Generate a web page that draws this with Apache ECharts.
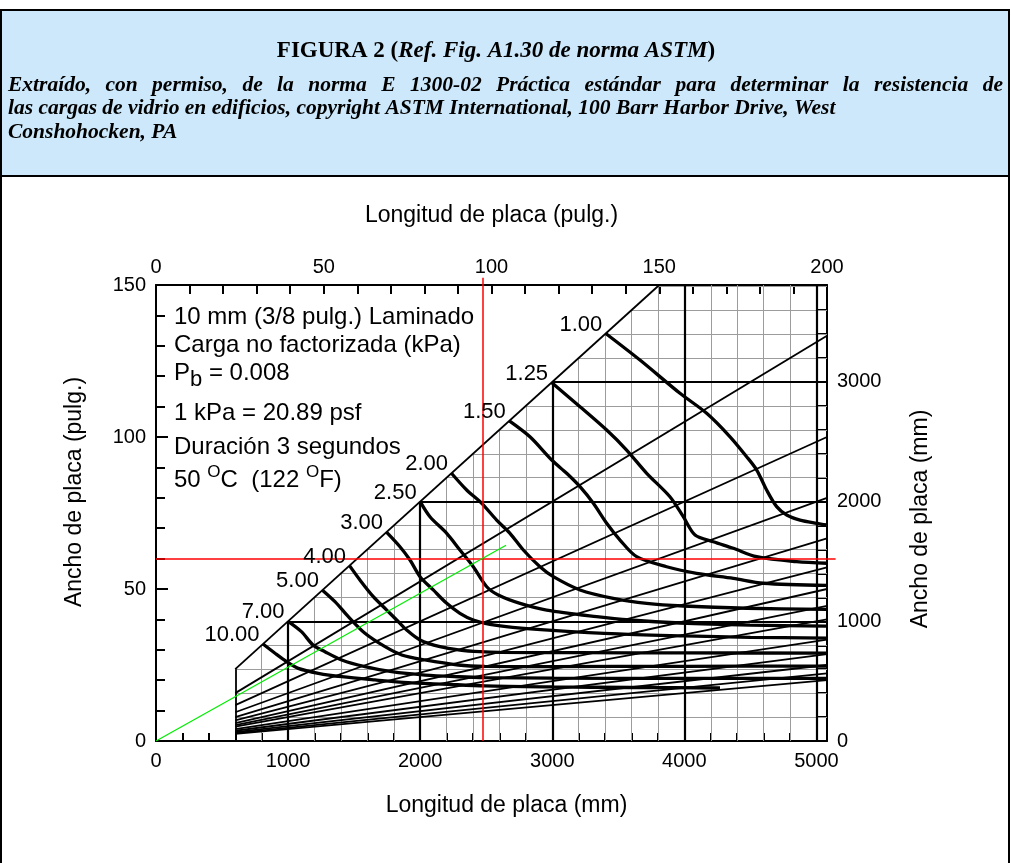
<!DOCTYPE html>
<html>
<head>
<meta charset="utf-8">
<script src="https://cdn.jsdelivr.net/npm/echarts@6/dist/echarts.min.js"></script>
<style>
html, body { margin: 0; padding: 0; background: #fff; }
#chart { width: 1011px; height: 863px; }
</style>
</head>
<body>
<div id="chart"></div>
<script>
// all chart values in mm: x = plate length, y = plate width
const X_MAX = 5080;   // 200 in
const Y_MAX = 3810;   // 150 in
const X_START = 600;  // charts start at 600 mm

// thin aspect-ratio lines (length / width)
const aspectRatios = [1.5, 2, 2.5, 3, 3.5, 4, 4.5, 5, 6, 7, 8, 9, 10];

// heavy reference lines
const heavyX = [1000, 2000, 3000, 4000, 5000];
const heavyY = [1000, 2000, 3000];
const gridStep = 200;

// non-factored load contours (kPa)
const loadLabels = ['1.00', '1.25', '1.50', '2.00', '2.50', '3.00', '4.00', '5.00', '7.00', '10.00'];
const curve100 = [[3405,3405],[3664,3183],[3967,2905],[4169,2738],[4346,2542],[4472,2375],[4548,2264],[4623,2097],[4699,1958],[4775,1888],[4876,1846],[5002,1819],[5080,1805]];
const curve125 = [[2995,2995],[3210,2793],[3412,2598],[3563,2431],[3715,2237],[3891,2041],[3992,1874],[4081,1721],[4219,1665],[4371,1610],[4548,1540],[4850,1498],[5080,1485]];
const curve150 = [[2675,2675],[2831,2542],[2996,2348],[3109,2237],[3210,2125],[3311,1986],[3412,1819],[3513,1679],[3639,1540],[3866,1456],[4093,1401],[4371,1359],[4598,1318],[5080,1300]];
const curve200 = [[2237,2237],[2352,2097],[2466,1986],[2579,1846],[2680,1735],[2781,1596],[2907,1456],[3008,1373],[3210,1262],[3462,1192],[3715,1150],[3992,1128],[4472,1109],[5080,1100]];
const curve250 = [[2000,2000],[2074,1874],[2201,1735],[2301,1596],[2402,1456],[2504,1289],[2591,1220],[2756,1150],[2958,1094],[3336,1039],[3588,1011],[3967,986],[4497,969],[5080,960]];
const curve300 = [[1745,1745],[1847,1623],[1923,1512],[1999,1373],[2099,1262],[2201,1150],[2301,1067],[2402,1011],[2529,975],[2700,950],[3000,925],[3500,895],[4000,878],[4500,866],[5080,860]];
const curve400 = [[1465,1465],[1544,1345],[1645,1206],[1747,1094],[1822,1011],[1898,927],[1999,844],[2150,788],[2301,760],[2453,746],[2604,740],[3200,738],[4000,736],[5080,735]];
const curve500 = [[1260,1260],[1355,1164],[1456,1039],[1582,900],[1734,788],[1860,719],[2036,677],[2289,635],[2491,624],[3000,622],[4000,624],[5080,626]];
const curve700 = [[1000,1000],[1101,914],[1189,802],[1279,746],[1406,677],[1582,621],[1784,579],[2036,551],[2289,537],[2491,530],[3000,525],[4000,523],[5080,524]];
const curve1000 = [[810,810],[901,733],[989,663],[1077,607],[1229,566],[1406,537],[1658,510],[1910,487],[2163,476],[2491,460],[3000,452],[3600,447],[4270,443]];
const loadCurves = [curve100, curve125, curve150, curve200, curve250, curve300, curve400, curve500, curve700, curve1000];

// worked example (red) and its aspect-ratio line (green)
const redVertical = [[2470, 0], [2470, 3870]];
const redHorizontal = [[0, 1524], [5145, 1524]];
const greenLine = [[0, 0], [2650, 1635]];

// text
const topTicks = [0, 50, 100, 150, 200];
const noteLines = ['10 mm (3/8 pulg.) Laminado', 'Carga no factorizada (kPa)', 'P|b| = 0.008', '1 kPa = 20.89 psf', 'Duración 3 segundos', '50 ^O^C  (122 ^O^F)'];
const headerTitle = ['FIGURA 2 (', 'Ref. Fig. A1.30 de norma ASTM', ')'];
const headerLines = [
  'Extraído, con permiso, de la norma E 1300-02 Práctica estándar para determinar la resistencia de',
  'las cargas de vidrio en edificios, copyright ASTM International, 100 Barr Harbor Drive, West',
  'Conshohocken, PA'
];

const SANS = '"Liberation Sans", Arial, sans-serif';
const SERIF = '"Liberation Serif", "Times New Roman", serif';

// ---- build segments ----
const grayLines = [];
for (let x = X_START + gridStep; x < X_MAX; x += gridStep) {
  grayLines.push({ coords: [[x, 0], [x, Math.min(x, Y_MAX)]] });
}
for (let y = gridStep; y < Y_MAX; y += gridStep) {
  grayLines.push({ coords: [[Math.max(X_START, y), y], [X_MAX, y]] });
}
const heavyLines = [];
heavyX.forEach(x => heavyLines.push({ coords: [[x, 0], [x, Math.min(x, Y_MAX)]] }));
heavyY.forEach(y => heavyLines.push({ coords: [[y, y], [X_MAX, y]] }));

const thinLines = [
  { coords: [[X_START, 0], [X_START, X_START]] },
  { coords: [[X_START, X_START], [Y_MAX, Y_MAX]] }
];
aspectRatios.forEach(r => thinLines.push({ coords: [[X_START, X_START / r], [X_MAX, X_MAX / r]] }));

// ---- text helpers ----
const measureCtx = document.createElement('canvas').getContext('2d');
function textWidth(str, font) {
  measureCtx.font = font;
  return measureCtx.measureText(str).width;
}
function textEl(text, x, y, opts) {
  return {
    type: 'text', x: x, y: y, z: 100,
    style: Object.assign({
      text: text, fill: '#000', fontFamily: SANS, fontSize: 24,
      align: 'left', verticalAlign: 'middle'
    }, opts || {})
  };
}

const graphics = [];
// header frame
graphics.push({ type: 'rect', z: 0, shape: { x: 1, y: 10, width: 1008, height: 166 }, style: { fill: '#cce8fa', stroke: '#000', lineWidth: 2 } });
graphics.push({ type: 'rect', z: 0, shape: { x: 1, y: 176, width: 1008, height: 700 }, style: { fill: 'none', stroke: '#000', lineWidth: 2 } });

// header title (bold + bold italic)
(function () {
  const size = 23;
  const fonts = ['bold ' + size + 'px ' + SERIF, 'italic bold ' + size + 'px ' + SERIF, 'bold ' + size + 'px ' + SERIF];
  const widths = headerTitle.map((t, i) => textWidth(t, fonts[i]));
  let x = 496 - widths.reduce((a, b) => a + b, 0) / 2;
  headerTitle.forEach((t, i) => {
    graphics.push(textEl(t, x, 51, { fontFamily: SERIF, fontSize: size, fontWeight: 'bold', fontStyle: i === 1 ? 'italic' : 'normal' }));
    x += widths[i];
  });
})();

// header citation, first line justified
(function () {
  const size = 21.5;
  const font = 'italic bold ' + size + 'px ' + SERIF;
  const ys = [85, 108, 132];
  const style = { fontFamily: SERIF, fontSize: size, fontWeight: 'bold', fontStyle: 'italic' };
  const words = headerLines[0].split(' ');
  const wsum = words.reduce((a, w) => a + textWidth(w, font), 0);
  const gap = (1003 - 8 - wsum) / (words.length - 1);
  let x = 8;
  words.forEach(w => {
    graphics.push(textEl(w, x, ys[0], style));
    x += textWidth(w, font) + gap;
  });
  graphics.push(textEl(headerLines[1], 8, ys[1], style));
  graphics.push(textEl(headerLines[2], 8, ys[2], style));
})();

// notes inside the plot: '|x|' subscript, '^x^' superscript
(function () {
  const ys = [317, 345, 373, 413, 447, 480];
  noteLines.forEach((line, i) => {
    let x = 174;
    const parts = line.split(/(\|[^|]+\||\^[^^]+\^)/).filter(p => p.length);
    parts.forEach(p => {
      let size = 24, dy = 0, t = p;
      if (p[0] === '|') { t = p.slice(1, -1); size = 22; dy = 7; }
      if (p[0] === '^') { t = p.slice(1, -1); size = 17; dy = -8; }
      graphics.push(textEl(t, x, ys[i] + dy, { fontSize: size }));
      x += textWidth(t, size + 'px ' + SANS);
    });
  });
})();

// ---- chart ----
const chart = echarts.init(document.getElementById('chart'), null, { renderer: 'canvas' });

const axisLineStyle = { color: '#000', width: 2 };
const labelStyle = { color: '#000', fontSize: 20, fontFamily: SANS };
const nameStyle = { color: '#000', fontSize: 23, fontFamily: SANS };

const series = [
  { type: 'lines', coordinateSystem: 'cartesian2d', xAxisIndex: 0, yAxisIndex: 1, silent: true, z: 2,
    data: grayLines, lineStyle: { color: '#9c9c9c', width: 1, opacity: 1 } },
  { type: 'lines', coordinateSystem: 'cartesian2d', xAxisIndex: 0, yAxisIndex: 1, silent: true, z: 3,
    data: heavyLines, lineStyle: { color: '#000', width: 2.2, opacity: 1 } },
  { type: 'lines', coordinateSystem: 'cartesian2d', xAxisIndex: 0, yAxisIndex: 1, silent: true, z: 3,
    data: thinLines, lineStyle: { color: '#000', width: 1.8, opacity: 1 } }
];
loadCurves.forEach((c, i) => series.push({
  type: 'line', name: loadLabels[i], xAxisIndex: 0, yAxisIndex: 1, data: c,
  smooth: 0.3, showSymbol: false, symbol: 'none', silent: true, z: 4,
  lineStyle: { color: '#000', width: 3.3 }
}));
series.push(
  { type: 'lines', coordinateSystem: 'cartesian2d', xAxisIndex: 0, yAxisIndex: 1, silent: true, z: 5, clip: false,
    data: [{ coords: redVertical }, { coords: redHorizontal }], lineStyle: { color: '#ff0000', width: 1.5, opacity: 1 } },
  { type: 'lines', coordinateSystem: 'cartesian2d', xAxisIndex: 0, yAxisIndex: 1, silent: true, z: 5,
    data: [{ coords: greenLine }], lineStyle: { color: '#00ee00', width: 1.2, opacity: 1 } },
  { type: 'scatter', xAxisIndex: 0, yAxisIndex: 1, symbolSize: 1, silent: true, z: 6,
    itemStyle: { opacity: 1, color: 'rgba(0,0,0,0)' },
    data: loadCurves.map((c, i) => ({ name: loadLabels[i], value: c[0] })),
    label: { show: true, position: 'left', distance: 3, offset: [0, -9], formatter: p => p.name,
      color: '#000', opacity: 1, textBorderWidth: 0, fontSize: 22, fontFamily: SANS } }
);

chart.setOption({
  animation: false,
  backgroundColor: '#fff',
  grid: { left: 156, right: 184, top: 285, bottom: 122, containLabel: false, outerBoundsMode: 'none' },
  xAxis: [
    { type: 'value', position: 'bottom', min: 0, max: X_MAX, interval: 200,
      axisLine: { show: true, onZero: false, lineStyle: axisLineStyle },
      axisTick: { show: true, inside: true, length: 8, lineStyle: axisLineStyle },
      axisLabel: Object.assign({ margin: 10, formatter: v => (v % 1000 === 0 ? String(v) : '') }, labelStyle),
      splitLine: { show: false },
      name: 'Longitud de placa (mm)', nameLocation: 'middle', nameGap: 53, nameMoveOverlap: false,
      nameTextStyle: Object.assign({ padding: [0, 0, 0, 30] }, nameStyle) },
    { type: 'value', position: 'top', min: 0, max: 200, interval: 10,
      axisLine: { show: true, onZero: false, lineStyle: axisLineStyle },
      axisTick: { show: true, inside: true, length: 9, lineStyle: axisLineStyle },
      axisLabel: Object.assign({ margin: 8, formatter: v => (topTicks.indexOf(v) >= 0 ? String(v) : '') }, labelStyle),
      splitLine: { show: false },
      name: 'Longitud de placa (pulg.)', nameLocation: 'middle', nameGap: 58, nameMoveOverlap: false,
      nameTextStyle: nameStyle }
  ],
  yAxis: [
    { type: 'value', position: 'left', min: 0, max: 150, interval: 50,
      axisLine: { show: true, onZero: false, lineStyle: axisLineStyle },
      axisTick: { show: true, inside: true, length: 12, lineStyle: axisLineStyle },
      minorTick: { show: true, splitNumber: 5, length: 9, lineStyle: axisLineStyle },
      axisLabel: Object.assign({ margin: 10 }, labelStyle),
      splitLine: { show: false }, minorSplitLine: { show: false },
      name: 'Ancho de placa (pulg.)', nameLocation: 'middle', nameGap: 70, nameRotate: 90, nameMoveOverlap: false,
      nameTextStyle: Object.assign({ padding: [0, 0, 0, 42] }, nameStyle) },
    { type: 'value', position: 'right', min: 0, max: Y_MAX, interval: 200,
      axisLine: { show: true, onZero: false, lineStyle: axisLineStyle },
      axisTick: { show: true, inside: true, length: 11, lineStyle: axisLineStyle },
      axisLabel: Object.assign({ margin: 10, formatter: v => (v % 1000 === 0 ? String(v) : '') }, labelStyle),
      splitLine: { show: false },
      name: 'Ancho de placa (mm)', nameLocation: 'middle', nameGap: 82, nameRotate: 90, nameMoveOverlap: false,
      nameTextStyle: Object.assign({ padding: [0, 12, 0, 0] }, nameStyle) }
  ],
  graphic: graphics,
  series: series
});
</script>
</body>
</html>
